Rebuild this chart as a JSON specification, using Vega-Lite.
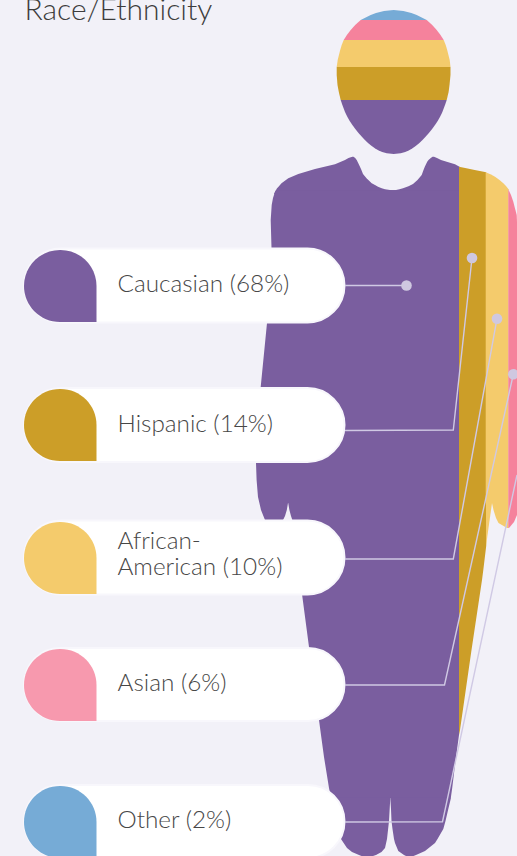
{"$schema":"https://vega.github.io/schema/vega-lite/v6.json","width":517,"height":856,"padding":0,"autosize":{"type":"none"},"background":"#F2F1F8","config":{"view":{"stroke":null}},
"datasets":{
"shape":[
{"part":"h1","group":"Other","y":10,"left":393.7,"right":393.7},{"part":"h1","group":"Other","y":11,"left":384,"right":403.4},{"part":"h1","group":"Other","y":13,"left":376,"right":411.4},{"part":"h1","group":"Other","y":15,"left":370.7,"right":416.7},{"part":"h1","group":"Other","y":20,"left":360.7,"right":426.7},
{"part":"h2","group":"Asian","y":20,"left":360.7,"right":426.7},{"part":"h2","group":"Asian","y":25,"left":355.2,"right":432.2},{"part":"h2","group":"Asian","y":30,"left":350.7,"right":436.7},{"part":"h2","group":"Asian","y":35,"left":346.9,"right":440.5},{"part":"h2","group":"Asian","y":40,"left":343.7,"right":443.7},
{"part":"h3","group":"African-American","y":40,"left":343.7,"right":443.7},{"part":"h3","group":"African-American","y":45,"left":341.7,"right":445.7},{"part":"h3","group":"African-American","y":50,"left":340.2,"right":447.2},{"part":"h3","group":"African-American","y":60,"left":337.7,"right":449.7},{"part":"h3","group":"African-American","y":67,"left":336.7,"right":450.5},
{"part":"h4","group":"Hispanic","y":67,"left":336.7,"right":450.5},{"part":"h4","group":"Hispanic","y":75,"left":336.7,"right":450.5},{"part":"h4","group":"Hispanic","y":85,"left":337.5,"right":449.5},{"part":"h4","group":"Hispanic","y":92,"left":338.8,"right":448.6},{"part":"h4","group":"Hispanic","y":100,"left":340.7,"right":446.7},
{"part":"h5","group":"Caucasian","y":100,"left":340.7,"right":446.7},{"part":"h5","group":"Caucasian","y":104,"left":342,"right":445.4},{"part":"h5","group":"Caucasian","y":108,"left":343.5,"right":443.9},{"part":"h5","group":"Caucasian","y":112,"left":345,"right":442.4},{"part":"h5","group":"Caucasian","y":116.7,"left":347.3,"right":440.1},{"part":"h5","group":"Caucasian","y":121,"left":349.7,"right":437.7},{"part":"h5","group":"Caucasian","y":125,"left":352.4,"right":435},{"part":"h5","group":"Caucasian","y":129,"left":355.3,"right":432.1},{"part":"h5","group":"Caucasian","y":133,"left":358.5,"right":428.9},{"part":"h5","group":"Caucasian","y":137,"left":362.1,"right":425.3},{"part":"h5","group":"Caucasian","y":140,"left":364.9,"right":422.5},{"part":"h5","group":"Caucasian","y":143,"left":368,"right":419.4},{"part":"h5","group":"Caucasian","y":146,"left":371.7,"right":415.7},{"part":"h5","group":"Caucasian","y":148.5,"left":375.2,"right":412.2},{"part":"h5","group":"Caucasian","y":150.5,"left":378.7,"right":408.7},{"part":"h5","group":"Caucasian","y":152,"left":382.2,"right":405.2},{"part":"h5","group":"Caucasian","y":153.2,"left":386.7,"right":400.7},{"part":"h5","group":"Caucasian","y":154,"left":393.7,"right":393.7},
{"part":"sl","group":"Caucasian","y":156.8,"left":352.3,"right":353.5},{"part":"sl","group":"Caucasian","y":158,"left":348.5,"right":355.2},{"part":"sl","group":"Caucasian","y":160,"left":345,"right":356.7},{"part":"sl","group":"Caucasian","y":164.3,"left":335,"right":358.8},{"part":"sl","group":"Caucasian","y":169,"left":315,"right":361},{"part":"sl","group":"Caucasian","y":174,"left":298.3,"right":363},{"part":"sl","group":"Caucasian","y":178.3,"left":288.3,"right":366.5},{"part":"sl","group":"Caucasian","y":183.3,"left":281.5,"right":371.7},{"part":"sl","group":"Caucasian","y":185,"left":280,"right":375},{"part":"sl","group":"Caucasian","y":186.8,"left":278.5,"right":378},{"part":"sl","group":"Caucasian","y":188.3,"left":277,"right":381.7},{"part":"sl","group":"Caucasian","y":189.3,"left":276.5,"right":385},{"part":"sl","group":"Caucasian","y":190,"left":276,"right":390},{"part":"sl","group":"Caucasian","y":190.4,"left":275.8,"right":395},{"part":"sl","group":"Caucasian","y":194,"left":274,"right":395},
{"part":"sr","group":"Caucasian","y":156.8,"left":432.5,"right":434},{"part":"sr","group":"Caucasian","y":158,"left":430.8,"right":437},{"part":"sr","group":"Caucasian","y":160,"left":428.5,"right":441},{"part":"sr","group":"Caucasian","y":161.7,"left":427.2,"right":446.7},{"part":"sr","group":"Caucasian","y":164.3,"left":426,"right":455},{"part":"sr","group":"Caucasian","y":166.7,"left":424.8,"right":459.5},{"part":"sr","group":"Caucasian","y":170,"left":423.5,"right":459.5},{"part":"sr","group":"Caucasian","y":175,"left":421.7,"right":459.5},{"part":"sr","group":"Caucasian","y":180,"left":417.5,"right":459.5},{"part":"sr","group":"Caucasian","y":184,"left":413,"right":459.5},{"part":"sr","group":"Caucasian","y":186.3,"left":408.5,"right":459.5},{"part":"sr","group":"Caucasian","y":188.3,"left":403,"right":459.5},{"part":"sr","group":"Caucasian","y":189.3,"left":399.5,"right":459.5},{"part":"sr","group":"Caucasian","y":190,"left":396,"right":459.5},{"part":"sr","group":"Caucasian","y":190.4,"left":391,"right":459.5},{"part":"sr","group":"Caucasian","y":194,"left":391,"right":459.5},
{"part":"m","group":"Caucasian","y":190.2,"left":276,"right":459.5},{"part":"m","group":"Caucasian","y":191.7,"left":275,"right":459.5},{"part":"m","group":"Caucasian","y":198,"left":273,"right":459.5},{"part":"m","group":"Caucasian","y":205,"left":271.7,"right":459.5},{"part":"m","group":"Caucasian","y":220,"left":270.7,"right":459.5},{"part":"m","group":"Caucasian","y":248,"left":271.5,"right":459.5},{"part":"m","group":"Caucasian","y":323,"left":267,"right":459.5},{"part":"m","group":"Caucasian","y":387,"left":260.7,"right":459.5},{"part":"m","group":"Caucasian","y":440,"left":256.5,"right":459.5},{"part":"m","group":"Caucasian","y":463,"left":256,"right":459.5},{"part":"m","group":"Caucasian","y":480,"left":256.6,"right":459.5},{"part":"m","group":"Caucasian","y":497,"left":258,"right":459.5},{"part":"m","group":"Caucasian","y":510,"left":261,"right":459.5},{"part":"m","group":"Caucasian","y":520,"left":265,"right":459.5},{"part":"m","group":"Caucasian","y":594,"left":302,"right":459.5},{"part":"m","group":"Caucasian","y":647,"left":309,"right":459.5},{"part":"m","group":"Caucasian","y":720,"left":319,"right":459.5},{"part":"m","group":"Caucasian","y":735,"left":321,"right":459},{"part":"m","group":"Caucasian","y":757,"left":324,"right":456},{"part":"m","group":"Caucasian","y":788,"left":329,"right":452.2},{"part":"m","group":"Caucasian","y":798,"left":331,"right":450.8},
{"part":"ll","group":"Caucasian","y":797.7,"left":331,"right":390.3},{"part":"ll","group":"Caucasian","y":821,"left":337,"right":389},{"part":"ll","group":"Caucasian","y":839,"left":341,"right":387},{"part":"ll","group":"Caucasian","y":848,"left":347,"right":385},{"part":"ll","group":"Caucasian","y":852,"left":352,"right":381.5},{"part":"ll","group":"Caucasian","y":855,"left":359,"right":376},{"part":"ll","group":"Caucasian","y":857,"left":364,"right":370},
{"part":"rl","group":"Caucasian","y":797.7,"left":390.3,"right":451},{"part":"rl","group":"Caucasian","y":809,"left":391,"right":448.3},{"part":"rl","group":"Caucasian","y":821,"left":391.5,"right":445.5},{"part":"rl","group":"Caucasian","y":829,"left":392.5,"right":443.3},{"part":"rl","group":"Caucasian","y":839,"left":394,"right":437.5},{"part":"rl","group":"Caucasian","y":843,"left":395,"right":435},{"part":"rl","group":"Caucasian","y":851,"left":398.3,"right":425},{"part":"rl","group":"Caucasian","y":855,"left":404,"right":416},{"part":"rl","group":"Caucasian","y":857,"left":408,"right":411},
{"part":"g","group":"Hispanic","y":166.7,"left":459,"right":459},{"part":"g","group":"Hispanic","y":168,"left":459,"right":465.2},{"part":"g","group":"Hispanic","y":170,"left":459,"right":474.7},{"part":"g","group":"Hispanic","y":172.3,"left":459,"right":486.2},{"part":"g","group":"Hispanic","y":546,"left":459,"right":486.2},{"part":"g","group":"Hispanic","y":570,"left":459,"right":483.3},{"part":"g","group":"Hispanic","y":580,"left":459,"right":482},{"part":"g","group":"Hispanic","y":650,"left":459,"right":471.5},{"part":"g","group":"Hispanic","y":730,"left":459,"right":460},{"part":"g","group":"Hispanic","y":735,"left":459,"right":459},
{"part":"y1","group":"African-American","y":172.3,"left":485.7,"right":485.7},{"part":"y1","group":"African-American","y":174.5,"left":485.7,"right":491},{"part":"y1","group":"African-American","y":176.7,"left":485.7,"right":495},{"part":"y1","group":"African-American","y":180,"left":485.7,"right":499.5},{"part":"y1","group":"African-American","y":183.3,"left":485.7,"right":503.3},{"part":"y1","group":"African-American","y":186,"left":485.7,"right":506},{"part":"y1","group":"African-American","y":189.3,"left":485.7,"right":508.5},{"part":"y1","group":"African-American","y":503,"left":485.7,"right":508.5},
{"part":"y2","group":"African-American","y":503,"left":486,"right":492},{"part":"y2","group":"African-American","y":546,"left":486,"right":486},
{"part":"y3","group":"African-American","y":503,"left":492,"right":508.5},{"part":"y3","group":"African-American","y":510,"left":493.5,"right":508.5},{"part":"y3","group":"African-American","y":518,"left":496,"right":508.5},{"part":"y3","group":"African-American","y":523,"left":498.5,"right":508.5},{"part":"y3","group":"African-American","y":528,"left":507,"right":508.5},
{"part":"p","group":"Asian","y":189.3,"left":508.3,"right":508.3},{"part":"p","group":"Asian","y":195,"left":508.3,"right":511},{"part":"p","group":"Asian","y":201.7,"left":508.3,"right":513.3},{"part":"p","group":"Asian","y":215,"left":508.3,"right":516.7},{"part":"p","group":"Asian","y":222,"left":508.3,"right":517},{"part":"p","group":"Asian","y":515,"left":508.3,"right":517},{"part":"p","group":"Asian","y":522,"left":508.3,"right":514},{"part":"p","group":"Asian","y":528,"left":508.3,"right":509}
],
"spike":[{"y":503,"left":288,"right":288.2},{"y":510,"left":286.8,"right":289.4},{"y":516,"left":285,"right":291},{"y":522,"left":282,"right":293}],
"pills":[
{"group":"Caucasian","top":248.5,"bottom":322.5},{"group":"Hispanic","top":388,"bottom":462},{"group":"African-American","top":520.5,"bottom":594.5},{"group":"Asian","top":648,"bottom":721},{"group":"Other","top":785,"bottom":858}],
"icons":[
{"group":"Caucasian","top":250,"bottom":322},{"group":"Hispanic","top":389,"bottom":461},{"group":"African-American","top":522,"bottom":594},{"group":"AsianLight","top":649,"bottom":721},{"group":"Other","top":786,"bottom":858}],
"links":[
{"link":"a","i":1,"x":345,"y":285.5},{"link":"a","i":2,"x":406.5,"y":285.5},
{"link":"b","i":1,"x":345,"y":430.5},{"link":"b","i":2,"x":453.3,"y":430},{"link":"b","i":3,"x":472,"y":258},
{"link":"c","i":1,"x":345,"y":559},{"link":"c","i":2,"x":453.3,"y":559},{"link":"c","i":3,"x":497,"y":318.7},
{"link":"d","i":1,"x":345,"y":685},{"link":"d","i":2,"x":444.5,"y":685},{"link":"d","i":3,"x":513.3,"y":374.3},
{"link":"e","i":1,"x":345,"y":822},{"link":"e","i":2,"x":442.5,"y":821.7},{"link":"e","i":3,"x":517,"y":475}],
"dots":[{"x":406.5,"y":285.5},{"x":472,"y":258},{"x":497,"y":318.7},{"x":513.3,"y":374.3}],
"labels":[
{"text":"Race/Ethnicity","x":24.5,"y":20,"kind":"title"},
{"text":"Caucasian (68%)","x":117.5,"y":292,"kind":"label"},
{"text":"Hispanic (14%)","x":117.5,"y":432,"kind":"label"},
{"text":"African-","x":117.5,"y":548.5,"kind":"label"},
{"text":"American (10%)","x":117.5,"y":574.5,"kind":"label"},
{"text":"Asian (6%)","x":117.5,"y":691,"kind":"label"},
{"text":"Other (2%)","x":117.5,"y":828,"kind":"label"}]
},
"layer":[
{"data":{"name":"shape"},"mark":{"type":"area","orient":"horizontal","interpolate":"linear"},
"encoding":{"y":{"field":"y","type":"quantitative","scale":{"domain":[0,856],"reverse":true,"nice":false,"zero":false},"axis":null},"x":{"field":"left","type":"quantitative","scale":{"domain":[0,517],"nice":false,"zero":false},"axis":null},"x2":{"field":"right"},"detail":{"field":"part"},"color":{"field":"group","type":"nominal","legend":null,"scale":{"domain":["Caucasian","Hispanic","African-American","Asian","Other","AsianLight"],"range":["#7A5E9F","#CC9E28","#F4CB6C","#F5829C","#76ABD6","#F799AE"]}}}},
{"data":{"name":"spike"},"mark":{"type":"area","orient":"horizontal","fill":"#F2F1F8"},
"encoding":{"y":{"field":"y","type":"quantitative"},"x":{"field":"left","type":"quantitative"},"x2":{"field":"right"}}},
{"data":{"name":"pills"},"mark":{"type":"rect","fill":"#FFFFFF","stroke":"#F8F7FC","strokeWidth":2,"cornerRadius":37},
"encoding":{"y":{"field":"top","type":"quantitative"},"y2":{"field":"bottom"},"x":{"datum":24,"type":"quantitative"},"x2":{"datum":344.5}}},
{"data":{"name":"icons"},"mark":{"type":"rect","cornerRadiusTopLeft":36,"cornerRadiusTopRight":36,"cornerRadiusBottomLeft":36,"cornerRadiusBottomRight":0},
"encoding":{"y":{"field":"top","type":"quantitative"},"y2":{"field":"bottom"},"x":{"datum":24,"type":"quantitative"},"x2":{"datum":96.5},"color":{"field":"group","type":"nominal","legend":null}}},
{"data":{"name":"links"},"mark":{"type":"line","stroke":"#D0C9E4","strokeWidth":1.4},
"encoding":{"x":{"field":"x","type":"quantitative"},"y":{"field":"y","type":"quantitative"},"detail":{"field":"link"},"order":{"field":"i","type":"quantitative"}}},
{"data":{"name":"dots"},"mark":{"type":"point","filled":true,"fill":"#CFC8E0","opacity":1,"size":113,"shape":"circle"},
"encoding":{"x":{"field":"x","type":"quantitative"},"y":{"field":"y","type":"quantitative"}}},
{"data":{"name":"labels"},"transform":[{"filter":"datum.kind==='label'"}],"mark":{"type":"text","align":"left","baseline":"alphabetic","font":"Lato","fontWeight":300,"fontSize":24.3,"fill":"#474747"},
"encoding":{"x":{"field":"x","type":"quantitative"},"y":{"field":"y","type":"quantitative"},"text":{"field":"text"}}},
{"data":{"name":"labels"},"transform":[{"filter":"datum.kind==='title'"}],"mark":{"type":"text","align":"left","baseline":"alphabetic","font":"Lato","fontWeight":300,"fontSize":30,"fill":"#3d3d3d"},
"encoding":{"x":{"field":"x","type":"quantitative"},"y":{"field":"y","type":"quantitative"},"text":{"field":"text"}}}
],
"resolve":{"scale":{"x":"shared","y":"shared"}}}
